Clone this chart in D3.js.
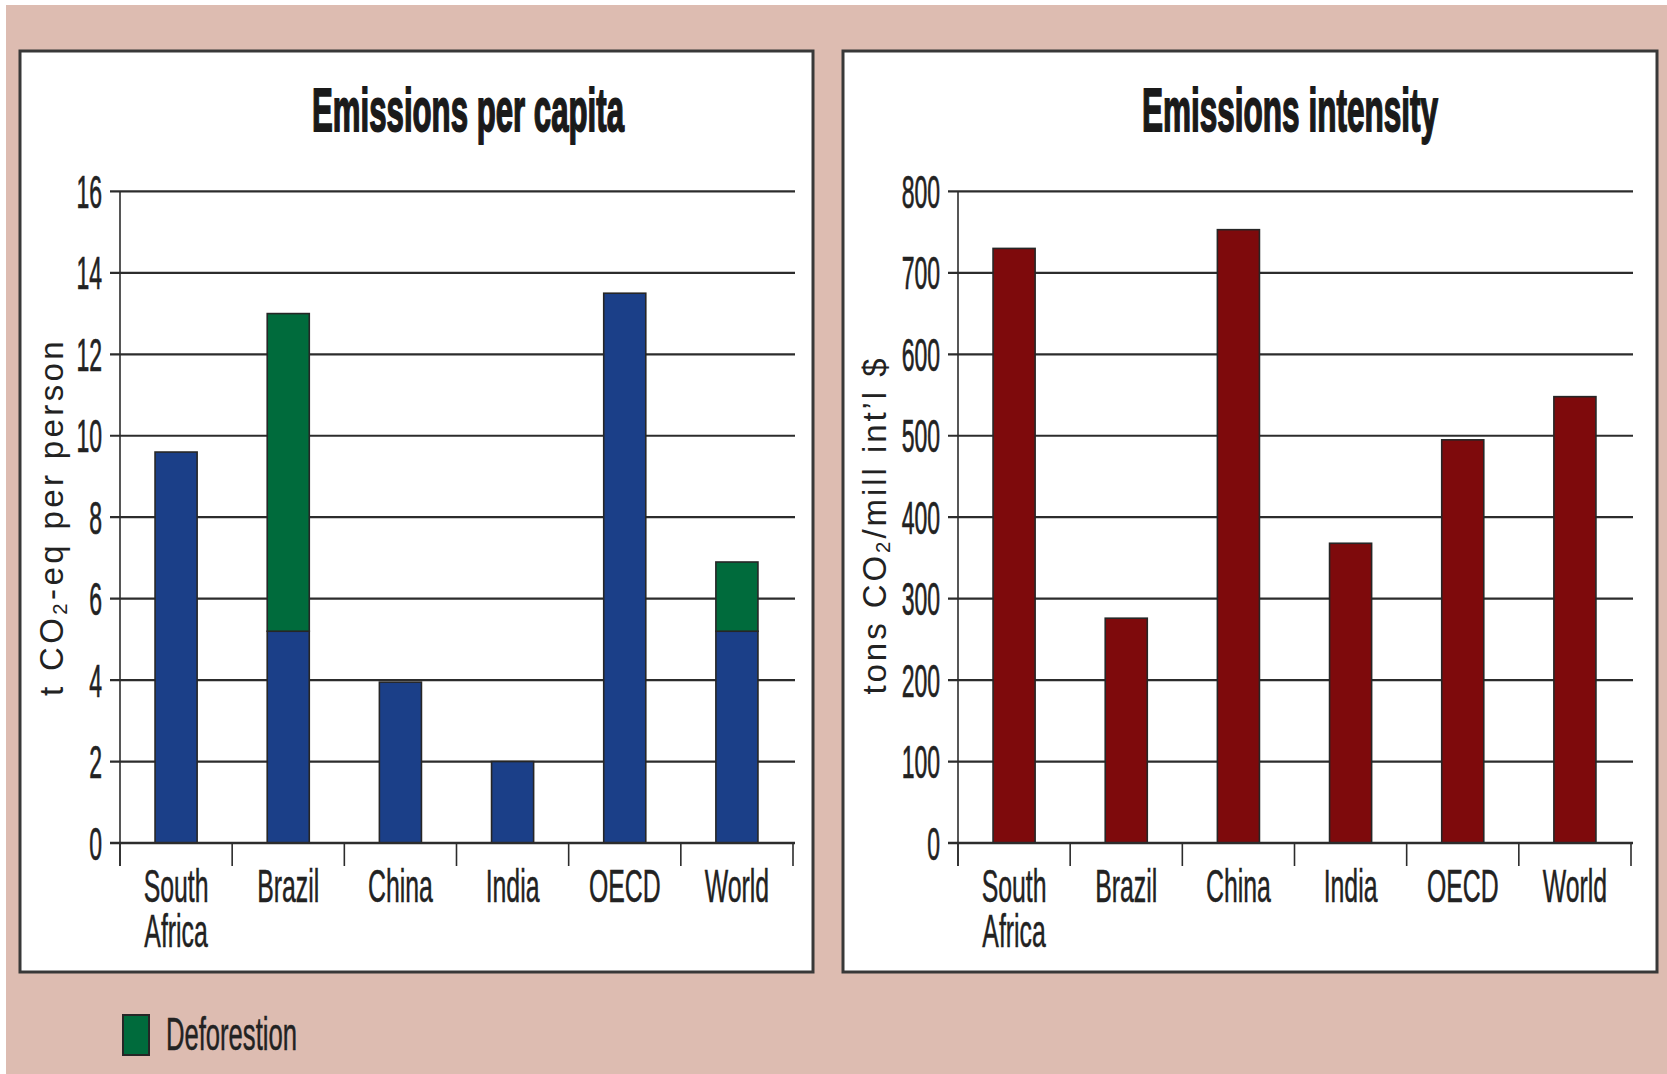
<!DOCTYPE html>
<html>
<head>
<meta charset="utf-8">
<script src="https://cdn.jsdelivr.net/npm/d3@7"></script>
<style>
  html, body { margin: 0; padding: 0; background: #ffffff; }
  svg { display: block; }
</style>
</head>
<body>
<svg id="chart" width="1667" height="1074"></svg>
<script>
// ---- data ----
const categories = ["South Africa", "Brazil", "China", "India", "OECD", "World"];
const categoryLines = [["South", "Africa"], ["Brazil"], ["China"], ["India"], ["OECD"], ["World"]];
const perCapitaEnergy = [9.6, 5.2, 3.95, 2.0, 13.5, 5.2];
const perCapitaDeforestation = [0, 7.8, 0, 0, 0, 1.7];
const intensityValues = [730, 276, 753, 368, 495, 548];
const perCapitaTicks = [0, 2, 4, 6, 8, 10, 12, 14, 16];
const intensityTicks = [0, 100, 200, 300, 400, 500, 600, 700, 800];
const legendLabel = "Deforestion";

// ---- styling ----
const COLORS = {
  page: "#ddbcb1",
  panel: "#ffffff",
  border: "#383838",
  grid: "#2c2c2c",
  text: "#222222",
  energy: "#1b3f88",
  deforestation: "#006b3c",
  intensity: "#7e0a0c",
  outline: "#262626"
};
const FONT = "'Liberation Sans', Arial, sans-serif";
const LABEL_SIZE = 46;
const LABEL_SQUEEZE = 0.54;
const TICK_SQUEEZE = 0.5;

const svg = d3.select("#chart");

// page background
svg.append("rect").attr("x", 6).attr("y", 5).attr("width", 1661).attr("height", 1069)
  .attr("fill", COLORS.page);

// squeezed (condensed-looking) text helper; lines after the first are stacked below
function condensed(parent, x, y, lines, opts) {
  const o = Object.assign({ size: LABEL_SIZE, sx: LABEL_SQUEEZE, anchor: "middle", weight: "normal", stroke: 0.5, lineGap: 45, fill: COLORS.text }, opts || {});
  const g = parent.append("g");
  const t = g.append("text")
    .attr("text-anchor", o.anchor)
    .attr("font-family", FONT)
    .attr("font-size", o.size)
    .attr("font-weight", o.weight)
    .attr("fill", o.fill)
    .attr("stroke", o.fill)
    .attr("stroke-width", o.stroke);
  [].concat(lines).forEach((line, k) => {
    t.append("tspan").attr("x", 0).attr("dy", k === 0 ? 0 : o.lineGap).text(line);
  });
  let sx = o.sx;
  if (o.width) sx = o.width / t.node().getComputedTextLength();
  g.attr("transform", `translate(${x},${y}) scale(${sx},1)`);
  return g;
}

// rotated axis title with spacing stretched to a given length
function axisTitle(parent, cx, cy, parts, length, size) {
  const t = parent.append("text")
    .attr("transform", `translate(${cx},${cy}) rotate(-90)`)
    .attr("text-anchor", "middle")
    .attr("font-family", FONT)
    .attr("font-size", size)
    .attr("fill", COLORS.text);
  let chars = 0;
  parts.forEach(p => {
    const ts = t.append("tspan").text(p.text);
    if (p.sub) ts.attr("font-size", size * 0.62).attr("baseline-shift", "-22%");
    chars += p.text.length;
  });
  const natural = t.node().getComputedTextLength();
  t.attr("letter-spacing", Math.max(0, (length - natural) / chars));
}

function drawPanel(cfg) {
  const g = svg.append("g");

  // panel frame
  g.append("rect")
    .attr("x", cfg.frame[0]).attr("y", cfg.frame[1])
    .attr("width", cfg.frame[2]).attr("height", cfg.frame[3])
    .attr("fill", COLORS.panel)
    .attr("stroke", COLORS.border).attr("stroke-width", 3);

  // title
  condensed(g, cfg.titleX, 131, cfg.title, {
    size: 61, weight: "bold", width: cfg.titleWidth, stroke: 1.8, fill: "#1a1a1a"
  });

  const x = d3.scaleBand().domain(categories).range([cfg.x0, cfg.x1]).padding(0);
  const y = d3.scaleLinear().domain(cfg.domain).range([843, 191.4]);

  // horizontal grid lines with left tick stubs
  g.append("g").selectAll("line").data(cfg.ticks).join("line")
    .attr("x1", cfg.x0 - 10).attr("x2", cfg.x1 + 2)
    .attr("y1", d => y(d)).attr("y2", d => y(d))
    .attr("stroke", COLORS.grid).attr("stroke-width", 2.2);

  // y tick labels
  cfg.ticks.forEach(t => {
    condensed(g, cfg.x0 - 18, y(t) + 16.5, String(t), { anchor: "end", sx: TICK_SQUEEZE, stroke: 0.7 });
  });

  // vertical axis line
  g.append("line")
    .attr("x1", cfg.x0).attr("x2", cfg.x0)
    .attr("y1", y(cfg.domain[1])).attr("y2", 866)
    .attr("stroke", COLORS.grid).attr("stroke-width", 1.6);

  // category boundary ticks below the baseline
  const bounds = categories.map(c => x(c)).concat([cfg.x1]);
  g.append("g").selectAll("line").data(bounds).join("line")
    .attr("x1", d => d).attr("x2", d => d)
    .attr("y1", y(0)).attr("y2", 866)
    .attr("stroke", COLORS.grid).attr("stroke-width", 1.6);

  // bars (stacked segments)
  const barW = x.bandwidth() * 0.375;
  cfg.series.forEach(s => {
    const segs = categories
      .map((c, i) => ({ cat: c, lo: s.base[i], hi: s.base[i] + s.values[i] }))
      .filter(d => d.hi > d.lo);
    g.append("g").selectAll("rect").data(segs).join("rect")
      .attr("x", d => x(d.cat) + (x.bandwidth() - barW) / 2)
      .attr("width", barW)
      .attr("y", d => y(d.hi))
      .attr("height", d => y(d.lo) - y(d.hi))
      .attr("fill", s.color)
      .attr("stroke", COLORS.outline).attr("stroke-width", 1.6);
  });

  // baseline on top of bars
  g.append("line")
    .attr("x1", cfg.x0 - 10).attr("x2", cfg.x1 + 2)
    .attr("y1", y(0)).attr("y2", y(0))
    .attr("stroke", COLORS.grid).attr("stroke-width", 2.4);

  // category labels
  categories.forEach((c, i) => {
    condensed(g, x(c) + x.bandwidth() / 2, 902, categoryLines[i]);
  });

  axisTitle(g, cfg.axisTitleX, cfg.axisTitleY, cfg.axisTitle, cfg.axisTitleLength, 33);
}

const zeros = categories.map(() => 0);

drawPanel({
  frame: [20, 51, 793, 921],
  title: "Emissions per capita",
  titleX: 468, titleWidth: 312,
  x0: 120, x1: 793,
  domain: [0, 16],
  ticks: perCapitaTicks,
  series: [
    { values: perCapitaEnergy, base: zeros, color: COLORS.energy },
    { values: perCapitaDeforestation, base: perCapitaEnergy, color: COLORS.deforestation }
  ],
  axisTitle: [{ text: "t CO" }, { text: "2", sub: true }, { text: "-eq per person" }],
  axisTitleX: 63, axisTitleY: 517, axisTitleLength: 358
});

drawPanel({
  frame: [843, 51, 814, 921],
  title: "Emissions intensity",
  titleX: 1290, titleWidth: 296,
  x0: 958, x1: 1631,
  domain: [0, 800],
  ticks: intensityTicks,
  series: [
    { values: intensityValues, base: zeros, color: COLORS.intensity }
  ],
  axisTitle: [{ text: "tons  CO" }, { text: "2", sub: true }, { text: "/mill int\u2019l $" }],
  axisTitleX: 886, axisTitleY: 525, axisTitleLength: 342
});

// legend
svg.append("rect")
  .attr("x", 123).attr("y", 1015).attr("width", 26).attr("height", 40)
  .attr("fill", COLORS.deforestation)
  .attr("stroke", COLORS.outline).attr("stroke-width", 2);
condensed(svg, 166, 1050, legendLabel, { anchor: "start", width: 131 });
</script>
</body>
</html>
